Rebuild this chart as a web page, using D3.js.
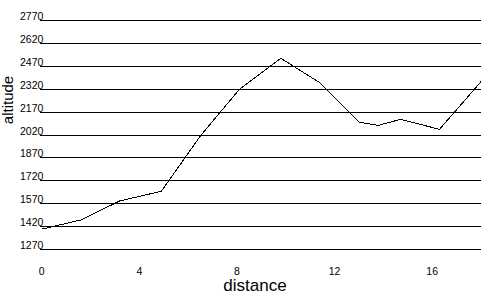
<!DOCTYPE html>
<html>
<head>
<meta charset="utf-8">
<script src="https://cdn.jsdelivr.net/npm/d3@7"></script>
<style>
  body { margin: 0; background: #fff; }
  svg { display: block; font-family: "Liberation Sans", Arial, sans-serif; }
</style>
</head>
<body>
<svg id="chart" width="500" height="300"></svg>
<script>
// profile
const distance = [0, 1.6, 3.2, 4.9, 6.5, 8.1, 9.8, 11.4, 13.0, 13.8, 14.7, 16.3, 18];
const altitude = [1400, 1460, 1585, 1648, 2010, 2316, 2519, 2359, 2101, 2080, 2119, 2054, 2366];
const yTicks = [1270, 1420, 1570, 1720, 1870, 2020, 2170, 2320, 2470, 2620, 2770];
const xTicks = [0, 4, 8, 12, 16];

const svg = d3.select('#chart');

const x = d3.scaleLinear().domain([0, 18]).range([41.7, 481]);
const y = d3.scaleLinear().domain([1270, 2770]).range([249, 20]);

// horizontal grid lines with labels sitting on them
const grid = svg.append('g').attr('class', 'grid');
grid.selectAll('line')
  .data(yTicks)
  .enter()
  .append('line')
  .attr('x1', 40)
  .attr('x2', 481)
  .attr('y1', (d) => Math.round(y(d)) + 0.5)
  .attr('y2', (d) => Math.round(y(d)) + 0.5)
  .attr('stroke', '#000')
  .attr('shape-rendering', 'crispEdges');

grid.selectAll('text')
  .data(yTicks)
  .enter()
  .append('text')
  .attr('x', 20)
  .attr('y', (d) => Math.round(y(d)))
  .attr('font-size', 10.5)
  .text((d) => d);

// x tick labels, no axis line
svg.append('g')
  .selectAll('text')
  .data(xTicks)
  .enter()
  .append('text')
  .attr('x', (d) => x(d))
  .attr('y', 275)
  .attr('text-anchor', 'middle')
  .attr('font-size', 10.5)
  .text((d) => d);

const line = d3.line()
  .x((d, i) => x(distance[i]))
  .y((d) => y(d));

svg.append('path')
  .datum(altitude)
  .attr('d', line)
  .attr('fill', 'none')
  .attr('stroke', '#000')
  .attr('stroke-width', 1)
  .attr('shape-rendering', 'crispEdges');

svg.append('text')
  .attr('x', 255)
  .attr('y', 291)
  .attr('text-anchor', 'middle')
  .attr('font-size', 17)
  .text('distance');

svg.append('text')
  .attr('transform', 'translate(12.5,100) rotate(-90)')
  .attr('text-anchor', 'middle')
  .attr('font-size', 15)
  .text('altitude');
</script>
</body>
</html>
